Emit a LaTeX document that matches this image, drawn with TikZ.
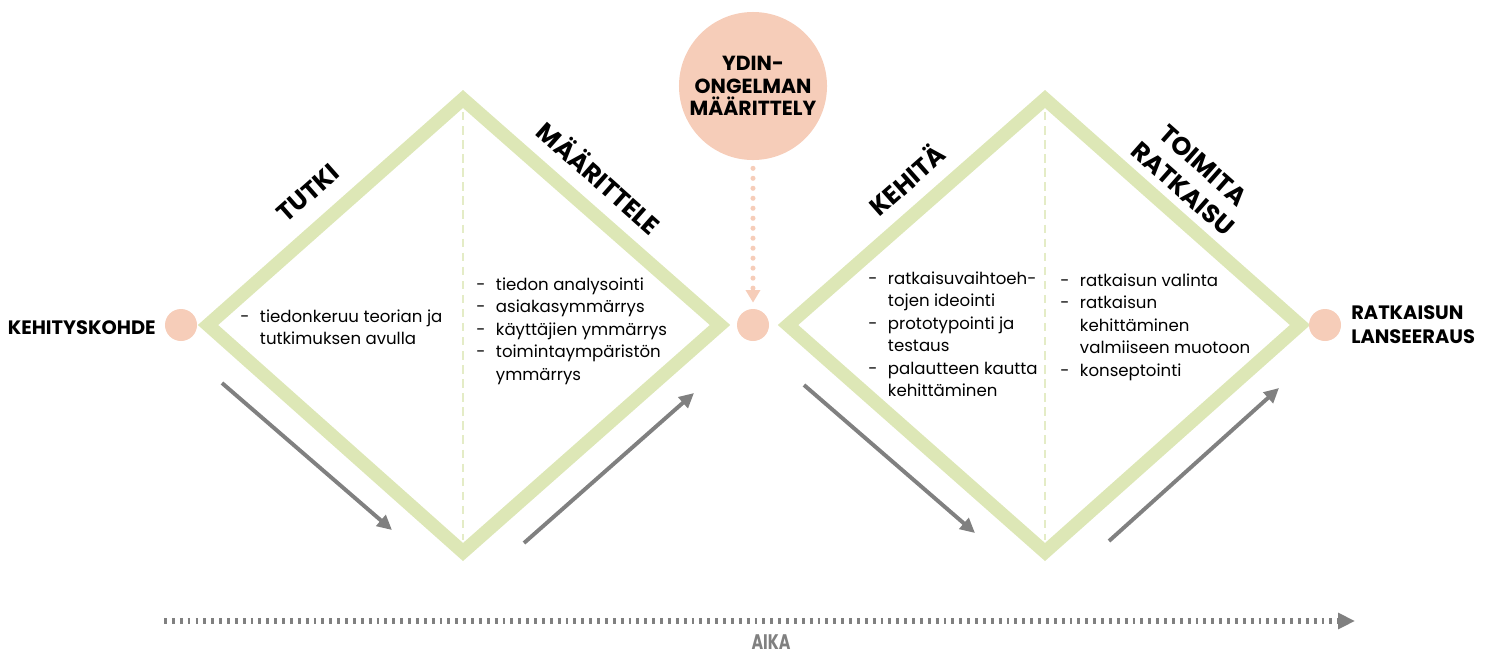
\documentclass[tikz,border=0pt]{standalone}
\usepackage{fontspec}
\setmainfont{Poppins}
\usetikzlibrary{arrows.meta}

\definecolor{vihrea}{RGB}{221,231,182}
\definecolor{vaalea}{RGB}{228,236,198}
\definecolor{persikka}{RGB}{246,205,185}
\definecolor{harmaa}{RGB}{128,128,128}

\tikzset{
  kaista/.style={draw=vihrea, line width=9.6pt, line join=miter},
  keskiviiva/.style={draw=vaalea, line width=1.5pt, dash pattern=on 6pt off 4pt},
  pallo/.style={circle, fill=persikka, inner sep=0pt, minimum size=0.8cm},
  otsikko/.style={font=\fontsize{18}{19}\selectfont\bfseries, align=center, inner sep=0pt},
  nimi/.style={font=\fontsize{13.8}{17}\selectfont\bfseries, align=left, inner sep=0pt},
  lista/.style={anchor=north west, inner sep=0pt, font=\fontsize{11.8}{16}\selectfont},
  nuoli/.style={draw=harmaa, line width=2.8pt, -{Triangle[length=10.5pt, width=10pt]}},
  pilkut/.style={draw=persikka, line width=3.6pt, line cap=round, dash pattern=on 0pt off 7.1pt,
    shorten <=5.7pt, shorten >=4.3pt, -{Triangle[length=9pt, width=10pt]}},
  aikaviiva/.style={draw=harmaa, line width=4pt, dash pattern=on 2pt off 3.6pt,
    -{Triangle[length=12pt, width=11pt]}},
}

\begin{document}
\begin{tikzpicture}[x=0.025cm, y=-0.025cm]
    \useasboundingbox (0,0) rectangle (1493,654);

    % timanttien kaistat
    \draw[kaista] (208,325) -- (463,99) -- (720,325) -- (463,552) -- cycle;
    \draw[kaista] (788,325) -- (1045,99) -- (1300,325) -- (1045,552) -- cycle;
    \draw[keskiviiva] (463,112) -- (463,540);
    \draw[keskiviiva] (1045,112) -- (1045,540);

    % vaiheiden otsikot
    \node[otsikko, rotate=41.5] (tutki) at (308,193) {TUTKI};
    \node[otsikko, rotate=-41.5] (maarittele) at (600,177) {MÄÄRITTELE};
    \node[otsikko, rotate=41.5] (kehita) at (906,179) {KEHITÄ};
    \node[otsikko, rotate=-41.5, font=\fontsize{18}{22}\selectfont\bfseries] (toimita) at (1193,177) {TOIMITA\\RATKAISU};

    % pallot
    \node[pallo] (kohde) at (181,325) {};
    \node[pallo] (vali) at (753,325) {};
    \node[pallo] (lanseeraus) at (1325,325) {};
    \node[pallo, minimum size=3.7cm, align=center, font=\fontsize{14.5}{16}\selectfont\bfseries] (ydin) at (753,86) {YDIN-\\ONGELMAN\\MÄÄRITTELY};

    \node[nimi, anchor=east] (kohdeteksti) at (156,328) {KEHITYSKOHDE};
    \node[nimi, anchor=west] (lanseerausteksti) at (1351,325) {RATKAISUN\\LANSEERAUS};

    \draw[pilkut] (ydin) -- (vali);

    % tehtavalistat
    \node[lista] (listaA) at (240,306) {\begin{tabular}{@{}p{14pt}@{}l@{}}
        - & tiedonkeruu teorian ja\\
          & tutkimuksen avulla
    \end{tabular}};
    \node[lista] (listaB) at (476,274) {\begin{tabular}{@{}p{14pt}@{}l@{}}
        - & tiedon analysointi\\
        - & asiakasymmärrys\\
        - & käyttäjien ymmärrys\\
        - & toimintaympäristön\\
          & ymmärrys
    \end{tabular}};
    \node[lista] (listaC) at (868,268) {\begin{tabular}{@{}p{14pt}@{}l@{}}
        - & ratkaisuvaihtoeh-\\
          & tojen ideointi\\
        - & prototypointi ja\\
          & testaus\\
        - & palautteen kautta\\
          & kehittäminen
    \end{tabular}};
    \node[lista] (listaD) at (1060,270) {\begin{tabular}{@{}p{14pt}@{}l@{}}
        - & ratkaisun valinta\\
        - & ratkaisun\\
          & kehittäminen\\
          & valmiiseen muotoon\\
        - & konseptointi
    \end{tabular}};

    % suuntanuolet
    \coordinate (n1a) at (222,383);
    \coordinate (n1b) at (392,530);
    \coordinate (n2a) at (524,543);
    \coordinate (n2b) at (694,393);
    \coordinate (n3a) at (804,385);
    \coordinate (n3b) at (975,533);
    \coordinate (n4a) at (1109,541);
    \coordinate (n4b) at (1279,388);
    \draw[nuoli] (n1a) -- (n1b);
    \draw[nuoli] (n2a) -- (n2b);
    \draw[nuoli] (n3a) -- (n3b);
    \draw[nuoli] (n4a) -- (n4b);

    % aika-akseli
    \coordinate (alku) at (164,621);
    \coordinate (loppu) at (1355,621);
    \draw[aikaviiva] (alku) -- (loppu);
    \node[font=\fontsize{15}{16}\selectfont\bfseries, text=harmaa, inner sep=0pt, xscale=0.75, transform shape] (aika) at (771,642) {AIKA};
\end{tikzpicture}
\end{document}
